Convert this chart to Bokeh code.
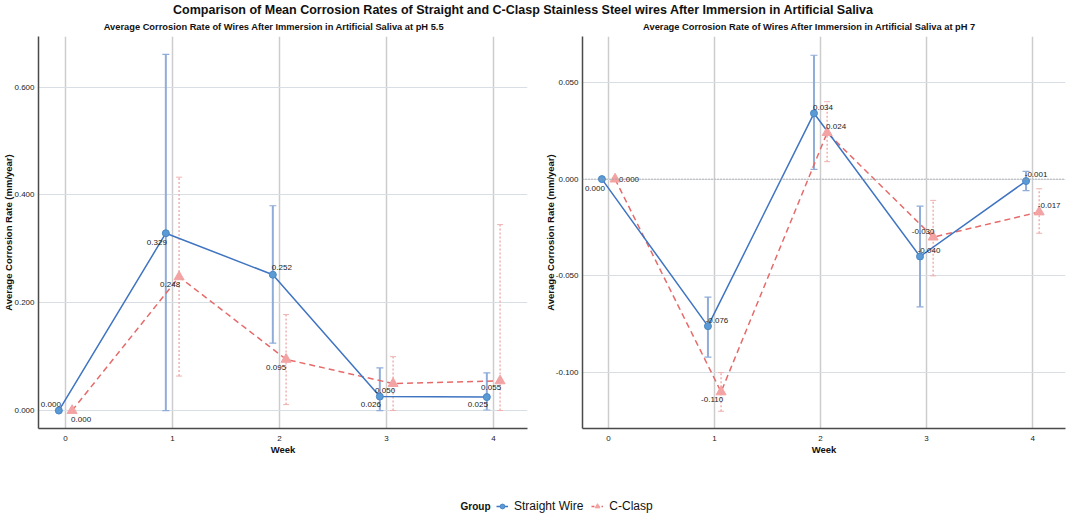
from bokeh.plotting import figure
from bokeh.models import (Range1d, ColumnDataSource, Whisker, TeeHead, NumeralTickFormatter,
                          FixedTicker, Span, Legend, LegendItem)
from bokeh.layouts import column, row
from bokeh.embed import file_html
from bokeh.resources import INLINE
from bokeh.core.properties import value

# ---------------- data ----------------
weeks = [0, 1, 2, 3, 4]
groups = ["Straight Wire", "C-Clasp"]

main_title = "Comparison of Mean Corrosion Rates of Straight and C-Clasp Stainless Steel wires After Immersion in Artificial Saliva"
sub_titles = ["Average Corrosion Rate of Wires After Immersion in Artificial Saliva at pH 5.5",
              "Average Corrosion Rate of Wires After Immersion in Artificial Saliva at pH 7"]

ph55_straight = [0.000, 0.329, 0.252, 0.026, 0.025]
ph55_straight_lo = [0.000, 0.000, 0.125, 0.000, 0.001]
ph55_straight_hi = [0.000, 0.661, 0.380, 0.079, 0.070]
ph55_clasp = [0.000, 0.248, 0.095, 0.050, 0.055]
ph55_clasp_lo = [0.000, 0.064, 0.011, 0.000, 0.000]
ph55_clasp_hi = [0.000, 0.433, 0.178, 0.100, 0.345]

ph7_straight = [0.000, -0.076, 0.034, -0.040, -0.001]
ph7_straight_lo = [0.000, -0.092, 0.005, -0.066, -0.006]
ph7_straight_hi = [0.000, -0.061, 0.064, -0.014, 0.004]
ph7_clasp = [0.000, -0.110, 0.024, -0.030, -0.017]
ph7_clasp_lo = [0.000, -0.120, 0.009, -0.050, -0.028]
ph7_clasp_hi = [0.000, -0.100, 0.040, -0.011, -0.005]

ph55_yticks = [0.0, 0.2, 0.4, 0.6]
ph7_yticks = [-0.1, -0.05, 0.0, 0.05]

# ---------------- styles ----------------
FONT = "Liberation Sans"
BLUE_LINE = "#3f74c2"
BLUE_FILL = "#5b9bd5"
BLUE_ERR = "#8fadd8"
RED_LINE = "#e66a6a"
RED_FILL = "#f3a3a3"
RED_ERR = "#efb1b1"
DODGE = 0.062

# label pixel offsets (dx, dy) per point
ph55_s_off = [(-8, -6), (-9, 9), (9, -7), (-9, 8), (-9, 7)]
ph55_c_off = [(9, 9), (-9, 8), (-10, 8), (-8, 7), (-9, 7)]
ph7_s_off = [(-7, 9), (9, -6), (9, -6), (9, -6), (10, -7)]
ph7_c_off = [(14, 0), (-9, 8), (9, -6), (-10, -6), (10, -6)]


def series_source(vals, lo, hi, offs, shift):
    return ColumnDataSource(dict(
        x=[w + shift for w in weeks], y=vals, lo=lo, hi=hi,
        label=["%.3f" % v for v in vals],
        dx=[o[0] for o in offs], dy=[o[1] for o in offs]))


def panel(width, xr, yr, yticks, border_l, border_r, s_data, c_data, zero_line=False):
    p = figure(width=width, height=424, x_range=Range1d(*xr), y_range=Range1d(*yr),
               output_backend="svg", toolbar_location=None,
               min_border_left=border_l, min_border_right=border_r,
               min_border_top=0, min_border_bottom=32)
    p.outline_line_color = None
    p.background_fill_color = "#ffffff"
    p.border_fill_color = "#ffffff"
    p.xaxis.ticker = FixedTicker(ticks=weeks)
    p.yaxis.ticker = FixedTicker(ticks=yticks)
    p.yaxis.formatter = NumeralTickFormatter(format="0.000")
    for ax in (p.xaxis[0], p.yaxis[0]):
        ax.major_tick_line_color = None
        ax.minor_tick_line_color = None
        ax.major_tick_out = 0
        ax.major_tick_in = 0
        ax.minor_tick_out = 0
        ax.minor_tick_in = 0
        ax.axis_line_color = "#4a4a4a"
        ax.axis_line_width = 1.5
        ax.major_label_text_font = FONT
        ax.major_label_text_font_size = "8px"
        ax.major_label_text_color = "#222222"
        ax.axis_label_text_font = FONT
        ax.axis_label_text_font_style = "bold"
        ax.axis_label_text_font_size = "9.5px"
        ax.axis_label_text_color = "#111111"
    p.yaxis.major_label_standoff = 4
    p.yaxis.axis_label_standoff = -3
    p.xaxis.major_label_standoff = 7
    p.xaxis.axis_label_standoff = 0
    p.xaxis.axis_label = "Week"
    p.yaxis.axis_label = "Average Corrosion Rate (mm/year)"
    p.xgrid.grid_line_color = "#cccccc"
    p.xgrid.grid_line_width = 1.5
    p.ygrid.grid_line_color = "#d9dde4"
    p.ygrid.grid_line_width = 1.2

    if zero_line:
        p.add_layout(Span(location=0, dimension="width", line_color="#9a9a9a",
                          line_dash="1 2", line_width=1.2))

    ssrc = series_source(*s_data, -DODGE)
    csrc = series_source(*c_data, DODGE)

    p.line("x", "y", source=csrc, line_color=RED_LINE, line_width=1.5, line_dash="6 4")
    p.line("x", "y", source=ssrc, line_color=BLUE_LINE, line_width=1.5)

    p.add_layout(Whisker(source=ssrc, base="x", lower="lo", upper="hi", dimension="height",
                         line_color=BLUE_ERR, line_width=2,
                         upper_head=TeeHead(size=7, line_color=BLUE_ERR, line_width=1.2),
                         lower_head=TeeHead(size=7, line_color=BLUE_ERR, line_width=1.2)))
    p.add_layout(Whisker(source=csrc, base="x", lower="lo", upper="hi", dimension="height",
                         line_color=RED_ERR, line_width=1.5, line_dash="2 2",
                         upper_head=TeeHead(size=6, line_color=RED_ERR, line_width=1),
                         lower_head=TeeHead(size=6, line_color=RED_ERR, line_width=1)))

    p.scatter("x", "y", source=ssrc, marker="circle", size=7, fill_color=BLUE_FILL,
              line_color="#4a86c5")
    p.scatter("x", "y", source=csrc, marker="triangle", size=10, fill_color=RED_FILL,
              line_color=RED_FILL)

    for src in (ssrc, csrc):
        p.text("x", "y", text="label", source=src, x_offset="dx", y_offset="dy",
               text_align="center", text_baseline="middle", text_font=value(FONT),
               text_font_size="8px", text_color="#1a1a1a")
    return p


p1 = panel(530, (-0.252, 4.318), (-0.0333, 0.694), ph55_yticks, 38, 3,
           (ph55_straight, ph55_straight_lo, ph55_straight_hi, ph55_s_off),
           (ph55_clasp, ph55_clasp_lo, ph55_clasp_hi, ph55_c_off))
p2 = panel(540, (-0.245, 4.31), (-0.1289, 0.0737), ph7_yticks, 52, 5,
           (ph7_straight, ph7_straight_lo, ph7_straight_hi, ph7_s_off),
           (ph7_clasp, ph7_clasp_lo, ph7_clasp_hi, ph7_c_off), zero_line=True)


def blank(width, height):
    f = figure(width=width, height=height, x_range=Range1d(0, width), y_range=Range1d(height, 0),
               output_backend="svg", toolbar_location=None, min_border=0)
    f.axis.visible = False
    f.grid.visible = False
    f.outline_line_color = None
    f.border_fill_color = "#ffffff"
    f.background_fill_color = "#ffffff"
    return f


top = blank(1070, 36)
top.text(x=[523], y=[9], text=[main_title], text_align="center", text_baseline="middle",
         text_font=value(FONT), text_font_style="bold", text_font_size="12.5px", text_color="#111111")
top.text(x=[273.5, 809], y=[26, 26], text=sub_titles, text_align="center", text_baseline="middle",
         text_font=value(FONT), text_font_style="bold", text_font_size="9.3px", text_color="#111111")

bottom = blank(1070, 54)
bottom.text(x=[475], y=[45.7], text=["Group"], text_align="center", text_baseline="middle",
            text_font=value(FONT), text_font_style="bold", text_font_size="10px", text_color="#111111")
# hidden legend-only renderers (placed outside the visible range)
ls = bottom.line(x=[-50, -40], y=[-50, -50], line_color=BLUE_LINE, line_width=1.5)
ms = bottom.scatter(x=[-50], y=[-50], marker="circle", size=7, fill_color=BLUE_FILL, line_color="#4a86c5")
lc = bottom.line(x=[-50, -40], y=[-50, -50], line_color=RED_LINE, line_width=1.5, line_dash="3 2")
mc = bottom.scatter(x=[-50], y=[-50], marker="triangle", size=10, fill_color=RED_FILL, line_color=RED_FILL)
legend = Legend(items=[LegendItem(label=groups[0], renderers=[ls, ms]),
                       LegendItem(label=groups[1], renderers=[lc, mc])],
                orientation="horizontal", location=(496, 1), padding=0, margin=0,
                spacing=8, glyph_width=12, glyph_height=12, label_height=12, label_standoff=6,
                label_text_font=FONT, label_text_font_size="12px", label_text_color="#111111",
                border_line_color=None, background_fill_alpha=0)
bottom.add_layout(legend)

layout = column(top, row(p1, p2), bottom)
open("out.html", "w").write(file_html(layout, INLINE))
